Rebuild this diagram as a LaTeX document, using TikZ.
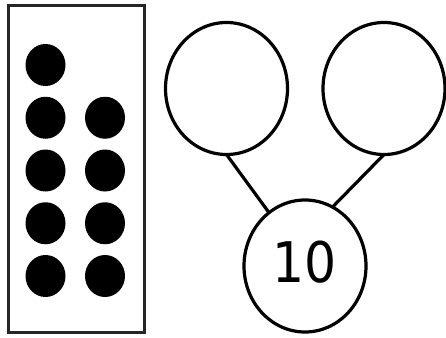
\documentclass[tikz,border=0pt]{standalone}
\usepackage{fontspec}
\newfontfamily\numfont{DejaVu Sans Condensed}
\usetikzlibrary{shapes.geometric}
\begin{document}
\begin{tikzpicture}[x=1pt,y=-1pt,
  bond/.style={ellipse,draw=black,line width=3.2pt,minimum width=122pt,minimum height=132pt,inner sep=0pt,outer sep=0pt},
  dot/.style={fill=black},
  link/.style={draw=black,line width=3.2pt}]
\useasboundingbox (0,0) rectangle (446,337);
\draw[line width=3pt,black!85] (8.5,5.5) rectangle (144.5,332.5);
\foreach \i in {0,...,4} {\fill[dot] (45.5,{65+52.75*\i}) ellipse (20pt and 21pt);}
\foreach \i in {1,...,4} {\fill[dot] (105,{65+52.75*\i}) ellipse (20pt and 21pt);}
\node[bond] (L) at (226.5,88.5) {};
\node[bond] (R) at (384,88.5) {};
\node[bond,font=\numfont\fontsize{56}{56}\selectfont] (B) at (305,266) {\raisebox{4pt}[\height][\depth]{10}};
\draw[link] (L.south) -- (B.124);
\draw[link] (R.south) -- (B.65);
\end{tikzpicture}
\end{document}
